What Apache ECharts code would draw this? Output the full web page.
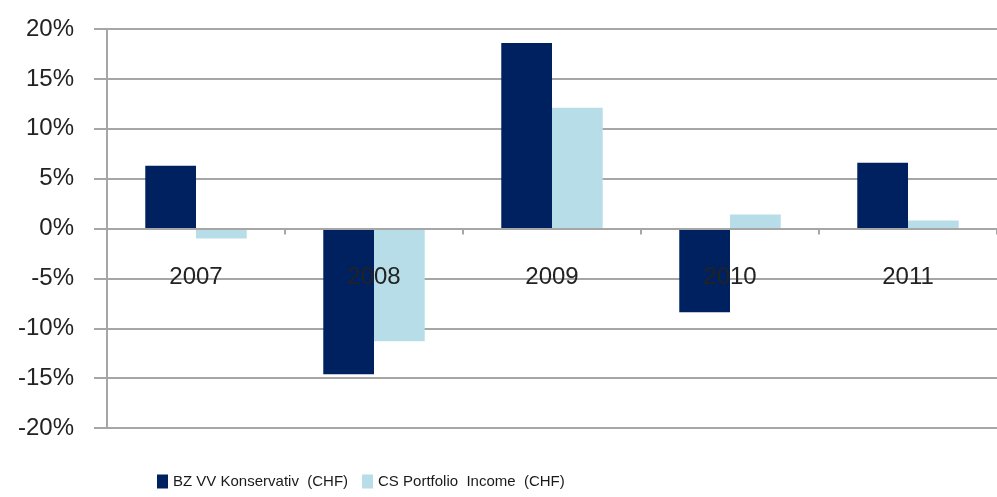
<!DOCTYPE html>
<html>
<head>
<meta charset="utf-8">
<script src="https://cdn.jsdelivr.net/npm/echarts@6/dist/echarts.min.js"></script>
<style>html,body{margin:0;padding:0;background:#fff}#c{width:997px;height:497px}</style>
</head>
<body>
<div id="c"></div>
<script>
var categories = ['2007', '2008', '2009', '2010', '2011'];
var seriesNames = ['BZ VV Konservativ  (CHF)', 'CS Portfolio  Income  (CHF)'];
var bzValues = [6.3, -14.6, 18.6, -8.4, 6.6];
var csValues = [-1.0, -11.3, 12.1, 1.4, 0.8];
var yTicks = [-20, -15, -10, -5, 0, 5, 10, 15, 20];

var chart = echarts.init(document.getElementById('c'));
var gridColor = '#a6a6a6';
var gridTop = 29, gridHeight = 399;
var yMin = yTicks[0], yMax = yTicks[yTicks.length - 1];
var zeroOffset = -gridHeight * (0 - yMin) / (yMax - yMin);
chart.setOption({
  animation: false,
  backgroundColor: '#fff',
  grid: { left: 107, top: gridTop, width: 895, height: gridHeight, containLabel: false },
  legend: {
    top: 469,
    left: 152,
    itemWidth: 11,
    itemHeight: 14,
    itemGap: 14,
    icon: 'rect',
    textStyle: { fontFamily: 'Liberation Sans', fontSize: 15, color: '#1a1a1a' },
    data: seriesNames
  },
  xAxis: {
    type: 'category',
    data: categories,
    z: 10,
    offset: zeroOffset,
    axisLine: { onZero: false, lineStyle: { color: gridColor, width: 2 } },
    axisTick: { show: true, inside: false, length: 6, lineStyle: { color: gridColor, width: 2 } },
    axisLabel: { margin: 37, fontFamily: 'Liberation Sans', fontSize: 24, color: '#222' },
    splitLine: { show: false }
  },
  yAxis: {
    type: 'value',
    min: yMin,
    max: yMax,
    interval: 5,
    axisLine: { show: true, lineStyle: { color: gridColor, width: 2 } },
    axisTick: { show: true, length: 13, lineStyle: { color: gridColor, width: 2 } },
    axisLabel: { margin: 33, fontFamily: 'Liberation Sans', fontSize: 24, color: '#222',
      formatter: function (v) { return v + '%'; } },
    splitLine: { show: true, lineStyle: { color: gridColor, width: 2 } }
  },
  series: [
    { name: seriesNames[0], type: 'bar', data: bzValues, itemStyle: { color: '#00215f' },
      barGap: '0%', barCategoryGap: '43%' },
    { name: seriesNames[1], type: 'bar', data: csValues, itemStyle: { color: '#b7dde8' },
      barGap: '0%', barCategoryGap: '43%' }
  ]
});
</script>
</body>
</html>
